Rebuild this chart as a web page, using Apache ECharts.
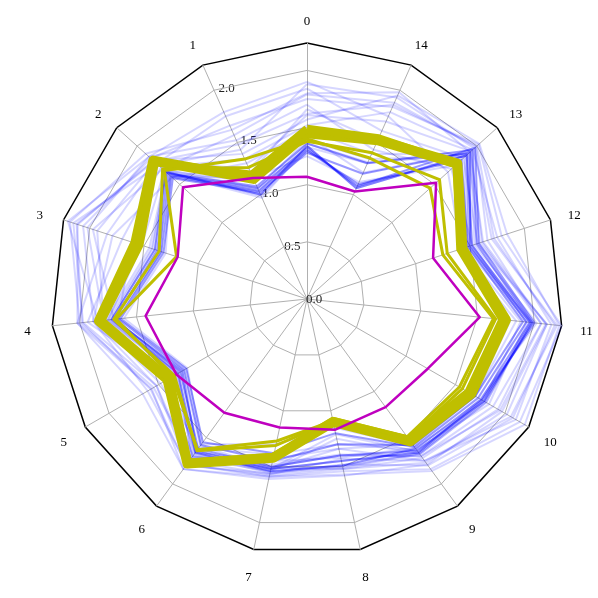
<!DOCTYPE html>
<html>
<head>
<meta charset="utf-8">
<script src="https://cdn.jsdelivr.net/npm/echarts@6/dist/echarts.min.js"></script>
<style>
  html, body { margin: 0; padding: 0; background: #fff; }
  #chart { width: 598px; height: 598px; }
</style>
</head>
<body>
<div id="chart"></div>
<script>
// axis names, counter-clockwise from the top
var axisNames = ['0', '1', '2', '3', '4', '5', '6', '7', '8', '9', '10', '11', '12', '13', '14'];
var radiusTicks = ['0.0', '0.5', '1.0', '1.5', '2.0'];
var ringLevels = [0.5, 1.0, 1.5, 2.0];
var outerMax = 2.24;

// the cloud of pale blue runs
var blueRuns = [
  [1.34, 1.00, 1.67, 1.40, 1.72, 1.31, 1.67, 1.54, 1.49, 1.67, 1.79, 1.97, 1.49, 1.88, 1.06],
  [1.33, 0.97, 1.65, 1.43, 1.75, 1.27, 1.65, 1.52, 1.21, 1.65, 1.77, 1.99, 1.51, 1.90, 1.30],
  [1.39, 1.06, 1.70, 1.34, 1.68, 1.34, 1.68, 1.56, 1.51, 1.68, 1.81, 1.95, 1.45, 1.86, 1.34],
  [1.88, 1.43, 1.75, 2.15, 1.97, 1.52, 1.75, 1.57, 1.43, 1.75, 2.06, 2.20, 1.70, 1.97, 1.93],
  [1.75, 1.66, 1.84, 2.06, 1.88, 1.61, 1.79, 1.59, 1.54, 1.84, 2.15, 2.24, 1.79, 2.02, 1.84],
  [1.61, 1.25, 1.79, 1.93, 1.79, 1.43, 1.70, 1.48, 1.39, 1.70, 1.88, 2.06, 1.61, 1.93, 1.70],
  [1.84, 1.75, 1.77, 1.84, 2.02, 1.57, 1.84, 1.61, 1.58, 1.79, 1.97, 2.11, 1.57, 1.84, 1.61],
  [1.25, 1.16, 1.61, 1.30, 1.61, 1.21, 1.57, 1.30, 1.15, 1.59, 1.70, 1.84, 1.39, 1.75, 1.12],
  [1.52, 1.34, 1.72, 1.70, 1.93, 1.39, 1.75, 1.43, 1.34, 1.75, 2.11, 2.15, 1.75, 1.95, 1.79],
  [1.70, 1.52, 1.86, 2.20, 1.84, 1.48, 1.61, 1.39, 1.30, 1.63, 1.84, 1.93, 1.52, 1.70, 1.43],
  [1.43, 1.12, 1.68, 1.52, 1.75, 1.33, 1.70, 1.52, 1.45, 1.66, 1.75, 2.02, 1.54, 1.93, 1.21],
  [1.79, 1.57, 1.70, 1.97, 1.70, 1.25, 1.59, 1.51, 1.52, 1.72, 1.93, 2.06, 1.66, 1.99, 1.88],
  [1.30, 0.99, 1.66, 1.45, 1.77, 1.30, 1.72, 1.54, 1.25, 1.68, 1.81, 1.97, 1.47, 1.88, 1.08],
  [1.57, 1.39, 1.81, 2.11, 2.02, 1.66, 1.84, 1.59, 1.57, 1.86, 2.20, 2.22, 1.84, 2.03, 1.95],
  [1.66, 1.21, 1.75, 1.61, 1.66, 1.39, 1.66, 1.45, 1.42, 1.61, 1.79, 1.88, 1.43, 1.79, 1.52],
  [1.36, 1.03, 1.67, 1.42, 1.73, 1.32, 1.66, 1.55, 1.50, 1.67, 1.80, 1.98, 1.49, 1.89, 1.31],
  [1.90, 1.79, 1.86, 2.02, 1.79, 1.43, 1.70, 1.52, 1.34, 1.57, 1.70, 1.79, 1.42, 1.66, 1.75],
  [1.48, 1.30, 1.59, 1.79, 1.88, 1.52, 1.79, 1.58, 1.52, 1.77, 2.02, 2.11, 1.59, 1.90, 1.39],
  [1.62, 1.48, 1.80, 2.12, 1.98, 1.58, 1.80, 1.56, 1.48, 1.80, 2.08, 2.18, 1.72, 2.00, 1.86],
  [1.80, 1.62, 1.90, 2.18, 2.00, 1.55, 1.72, 1.50, 1.40, 1.70, 1.95, 2.10, 1.62, 1.92, 1.98]
];

// the dense core of the blue cloud
var blueCore = [
  [1.34, 1.00, 1.66, 1.40, 1.72, 1.30, 1.66, 1.54, 1.49, 1.62, 1.76, 1.96, 1.52, 1.88, 1.06],
  [1.30, 1.04, 1.60, 1.34, 1.66, 1.24, 1.58, 1.45, 1.30, 1.58, 1.70, 1.90, 1.48, 1.82, 1.10],
  [1.36, 1.08, 1.64, 1.38, 1.69, 1.28, 1.62, 1.50, 1.40, 1.64, 1.79, 1.98, 1.56, 1.95, 1.30],
  [1.28, 1.02, 1.58, 1.32, 1.64, 1.22, 1.55, 1.38, 1.20, 1.60, 1.73, 1.93, 1.50, 1.92, 1.20],
  [1.32, 1.06, 1.62, 1.36, 1.70, 1.26, 1.64, 1.52, 1.45, 1.66, 1.77, 2.00, 1.58, 1.98, 1.08]
];

// the yellow runs: two heavy ones and two thin ones
var yellowHeavy = [
  [1.45, 1.15, 1.81, 1.58, 1.83, 1.41, 1.78, 1.42, 1.10, 1.54, 1.66, 1.75, 1.43, 1.77, 1.52],
  [1.49, 1.19, 1.79, 1.54, 1.81, 1.39, 1.77, 1.41, 1.09, 1.52, 1.63, 1.72, 1.41, 1.76, 1.54]
];
var yellowThin = [
  [1.38, 1.26, 1.70, 1.36, 1.70, 1.34, 1.64, 1.31, 1.09, 1.51, 1.57, 1.66, 1.29, 1.56, 1.40],
  [1.40, 1.34, 1.68, 1.20, 1.68, 1.36, 1.63, 1.27, 1.09, 1.49, 1.54, 1.64, 1.25, 1.45, 1.35]
];

// the single magenta run
var magentaRun = [1.07, 1.16, 1.46, 1.19, 1.42, 1.32, 1.23, 1.15, 1.17, 1.17, 1.22, 1.52, 1.16, 1.52, 1.03];

var chart = echarts.init(document.getElementById('chart'));

var serif = 'Liberation Serif';
var grey = '#b0b0b0';

var ringData = ringLevels.map(function (l) {
  return { value: axisNames.map(function () { return l; }), lineStyle: { color: grey, width: 1 } };
});
var blueData = blueRuns.map(function (v) {
  return { value: v, lineStyle: { color: 'rgba(0,0,255,0.16)', width: 2 } };
}).concat(blueCore.map(function (v) {
  return { value: v, lineStyle: { color: 'rgba(0,0,255,0.4)', width: 2 } };
}));
var yellowData = yellowHeavy.map(function (v, i) {
  return { value: v, lineStyle: { color: '#bfbf00', width: i === 0 ? 10 : 8 } };
}).concat(yellowThin.map(function (v) {
  return { value: v, lineStyle: { color: '#bfbf00', width: 3 } };
}));

chart.setOption({
  animation: false,
  backgroundColor: '#fff',
  radar: {
    center: [307, 299],
    radius: 256,
    startAngle: 90,
    shape: 'polygon',
    splitNumber: 1,
    indicator: axisNames.map(function (n) { return { name: n, min: 0, max: outerMax }; }),
    axisName: {
      color: '#000', fontFamily: serif, fontSize: 13, lineHeight: 7,
      align: 'center', verticalAlign: 'top'
    },
    nameGap: 25,
    axisLine: { lineStyle: { color: grey, width: 1 } },
    axisTick: { show: false },
    axisLabel: { show: false },
    splitArea: { show: false },
    splitLine: { lineStyle: { color: '#000', width: 1.5 } }
  },
  polar: { center: [307, 299], radius: 256 },
  angleAxis: {
    type: 'value', min: 0, max: 360, startAngle: 112.5,
    axisLine: { show: false }, axisTick: { show: false },
    axisLabel: { show: false }, splitLine: { show: false }
  },
  radiusAxis: {
    type: 'value', min: 0, max: outerMax, interval: 0.5,
    axisLine: { show: false }, axisTick: { show: false }, splitLine: { show: false },
    axisLabel: {
      inside: true, margin: 1,
      align: 'left', verticalAlign: 'middle',
      showMaxLabel: false,
      color: '#222', fontFamily: serif, fontSize: 13,
      formatter: function (v) { return radiusTicks[Math.round(v / 0.5)] || ''; }
    }
  },
  series: [
    { type: 'radar', symbol: 'none', silent: true, z: 1, data: ringData },
    { type: 'radar', symbol: 'none', silent: true, data: blueData },
    { type: 'radar', symbol: 'none', silent: true, data: yellowData },
    {
      type: 'radar', symbol: 'none', silent: true,
      data: [{ value: magentaRun, lineStyle: { color: '#bf00bf', width: 2.5 } }]
    }
  ]
});
</script>
</body>
</html>
